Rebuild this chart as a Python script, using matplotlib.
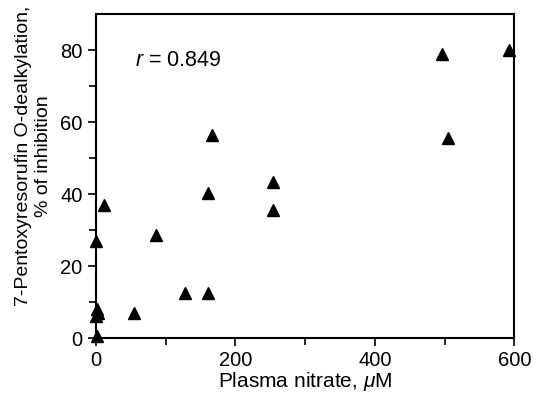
import matplotlib
matplotlib.use('Agg')
import matplotlib.pyplot as plt

plt.rcParams['font.family'] = ['Liberation Sans', 'DejaVu Sans']
plt.rcParams['mathtext.fontset'] = 'custom'
plt.rcParams['mathtext.rm'] = 'Liberation Sans'
plt.rcParams['mathtext.it'] = 'Liberation Sans:italic'

# plasma nitrate (uM) vs % inhibition of PROD
nitrate = [1, 1, 3, 0, 0, 12, 55, 86, 128, 160, 160, 167, 254, 254, 496, 505, 592]
inhibition = [0.5, 8, 7, 6, 27, 37, 7, 28.5, 12.4, 12.4, 40.4, 56.4, 43.4, 35.5, 79, 55.7, 80]

xticks = [0, 200, 400, 600]
yticks = [0, 20, 40, 60, 80]

fig = plt.figure(figsize=(5.33, 3.94), dpi=100)
ax = fig.add_axes([0.180, 0.142, 0.785, 0.822])

ax.plot(nitrate, inhibition, linestyle='none', marker='^', color='black',
        markersize=8, clip_on=False)

ax.set_xlim(0, 600)
ax.set_ylim(0, 90)
ax.set_xticks(xticks)
ax.set_yticks(yticks)
ax.set_xticks([100, 300, 500], minor=True)
ax.set_yticks([10, 30, 50, 70], minor=True)
ax.tick_params(which='major', direction='out', length=6, width=1.2, labelsize=14.5)
ax.tick_params(which='minor', direction='out', length=5, width=1.2)
for s in ax.spines.values():
    s.set_linewidth(1.5)

ax.set_xlabel(r'Plasma nitrate, $\mu$M', fontsize=15, labelpad=0)
ax.set_ylabel('7-Pentoxyresorufin O-dealkylation,\n% of inhibition',
              fontsize=14, linespacing=1.2)
ax.yaxis.set_label_coords(-0.105, 0.562)
ax.text(56, 77, r'$r$ = 0.849', fontsize=15.5, va='center')

fig.savefig('out.png', dpi=100)
